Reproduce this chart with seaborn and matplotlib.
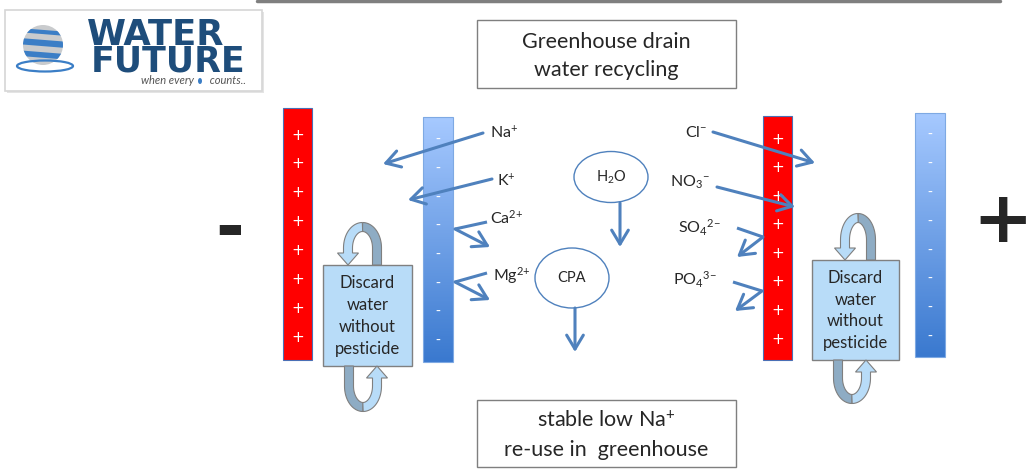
import numpy as np
import matplotlib.pyplot as plt
from matplotlib.patches import Rectangle, Ellipse, Circle, Polygon
import seaborn as sns

sns.set_style("white")
plt.rcParams['font.family'] = ['Lato', 'DejaVu Sans']
plt.rcParams['mathtext.fontset'] = 'custom'
plt.rcParams['mathtext.rm'] = 'Lato'
plt.rcParams['mathtext.it'] = 'Lato:italic'

# text content
title_lines = ["Greenhouse drain", "water recycling"]
result_lines = ["stable low Na$^{+}$", "re-use in  greenhouse"]
discard_lines = ["Discard", "water", "without", "pesticide"]
cations = ["Na$^{+}$", "K$^{+}$", "Ca$^{2{+}}$", "Mg$^{2{+}}$"]
anions = ["Cl$^{-}$", "NO$_{3}$$^{-}$", "SO$_{4}$$^{2{-}}$", "PO$_{4}$$^{3{-}}$"]
neutrals = ["H$_{2}$O", "CPA"]
n_signs = 8

# layout (pixel coordinates, y downwards)
cation_xy = [(490, 138), (497, 186), (490, 224), (493, 281)]
anion_xy = [(685, 137), (670, 187), (678, 233), (673, 285)]
cation_paths = [[(483, 133), (383, 164)], [(492, 179), (408, 200)],
                [(487, 222), (455, 229), (490, 247)], [(487, 273), (455, 282), (490, 300)]]
anion_paths = [[(713, 132), (815, 163)], [(717, 187), (795, 207)],
               [(737, 228), (763, 237), (737, 257)], [(733, 282), (762, 291), (735, 311)]]

ARROW = "#4f81bd"
blue_cmap = sns.blend_palette(["#a6c9ff", "#3a79cf"], as_cmap=True)

fig = plt.figure(figsize=(10.32, 4.73), dpi=100)
ax = fig.add_axes([0, 0, 1, 1])


def arrow_path(pts):
    for (x0, y0), (x1, y1) in zip(pts[:-2], pts[1:-1]):
        ax.plot([x0, x1], [y0, y1], color=ARROW, lw=2.2, solid_capstyle="butt", zorder=6)
    ax.annotate("", xy=pts[-1], xytext=pts[-2],
                arrowprops=dict(arrowstyle="->,head_length=0.5,head_width=0.3", color=ARROW,
                                lw=2.2, shrinkA=0, shrinkB=0, mutation_scale=20), zorder=6)


def charge_bar(x0, x1, y0, y1, sign_ys, red):
    if red:
        ax.add_patch(Rectangle((x0, y0), x1 - x0, y1 - y0, fc="#ff0000", ec="#4a6fb5", lw=0.8, zorder=2))
        s, fs = "+", 11
    else:
        ax.imshow(np.linspace(0, 1, 200)[:, None], extent=(x0, x1, y1, y0), cmap=blue_cmap,
                  aspect="auto", zorder=2)
        ax.add_patch(Rectangle((x0, y0), x1 - x0, y1 - y0, fill=False, ec="#7ea9e3", lw=0.8, zorder=3))
        s, fs = "-", 10
    for y in sign_ys:
        ax.text((x0 + x1) / 2, y, s, color="white", fontsize=fs, ha="center", va="center",
                family="DejaVu Sans", zorder=4)


def band(pts, w):
    d = np.gradient(pts, axis=0)
    n = np.column_stack([-d[:, 1], d[:, 0]])
    n /= np.linalg.norm(n, axis=1)[:, None]
    return pts + n * w / 2, pts - n * w / 2, n


def loop(cx, cy, a, b, base_y, top, w=9, hw=21, hl=12):
    s = -1 if top else 1
    h = 1 if top else -1
    t1 = np.linspace(0, np.pi / 2, 30)
    t2 = np.linspace(np.pi / 2, np.pi, 30)
    leg = np.column_stack([np.full(10, cx + h * a), np.linspace(base_y, cy, 10)])
    arc1 = np.column_stack([cx + h * a * np.cos(t1), cy + s * b * np.sin(t1)])
    dark = np.vstack([leg[:-1], arc1])
    l, r, _ = band(dark, w)
    ax.add_patch(Polygon(np.vstack([l, r[::-1]]), fc="#8eacc4", ec="#7f7f7f", lw=0.8, zorder=5))
    arc2 = np.column_stack([cx + h * a * np.cos(t2), cy + s * b * np.sin(t2)])
    hb = base_y + s * hl
    leg2 = np.column_stack([np.full(6, cx - h * a), np.linspace(cy, hb, 6)])
    light = np.vstack([arc2, leg2[1:]])
    l, r, n = band(light, w)
    c = light[-1]
    head = [c + n[-1] * hw / 2, (cx - h * a, base_y), c - n[-1] * hw / 2]
    ax.add_patch(Polygon(np.vstack([l, head, r[::-1]]), fc="#b8dcf8", ec="#7f7f7f", lw=0.8, zorder=5))


def discard_box(x0, x1, y0, y1):
    ax.add_patch(Rectangle((x0, y0), x1 - x0, y1 - y0, fc="#b8dcf8", ec="#808080", lw=1, zorder=5))
    ys = np.linspace(y0 + 18, y1 - 17, len(discard_lines))
    for y, t in zip(ys, discard_lines):
        ax.text((x0 + x1) / 2, y, t, fontsize=12, ha="center", va="center", zorder=6)


# logo
ax.add_patch(Rectangle((7, 12), 257, 81, fc="#e4e4e4", ec="none", zorder=0))
ax.add_patch(Rectangle((5, 10), 257, 81, fc="white", ec="#d6d6d6", lw=1.2, zorder=1))
globe = Circle((43, 45), 20, fc="#c9cbcd", ec="none", zorder=2)
ax.add_patch(globe)
for yy, lw in [(32, 3), (43, 4.5), (55, 4)]:
    ln, = ax.plot([18, 68], [yy - 2, yy + 2], color="#3b7ec6", lw=lw, zorder=3)
    ln.set_clip_path(globe)
ax.add_patch(Ellipse((45, 66), 56, 11, fill=False, ec="#3b7ec6", lw=1.6, zorder=2))
ax.text(87, 45, "WATER", fontsize=25.5, fontweight="bold", color="#1e4d7b", va="baseline",
        family="DejaVu Sans", zorder=3)
ax.text(91, 72, "FUTURE", fontsize=25, fontweight="bold", color="#1e4d7b", va="baseline",
        family="DejaVu Sans", zorder=3)
ax.text(141, 84, "when every      counts..", fontsize=8, style="italic", color="#555555",
        va="baseline", zorder=3)
ax.add_patch(Ellipse((200, 81), 4, 6, fc="#3b7ec6", ec="none", zorder=4))
ax.plot([257, 1000], [1.5, 1.5], color="#7f7f7f", lw=2.5)

# title and result boxes
for (y0, y1), lines, ys in [((20, 88), title_lines, (42, 70)), ((400, 467), result_lines, (421, 450))]:
    ax.add_patch(Rectangle((477, y0), 259, y1 - y0, fill=False, ec="#7f7f7f", lw=1))
    for y, t in zip(ys, lines):
        ax.text(606.5, y, t, fontsize=15.5, ha="center", va="center")

# electrodes
charge_bar(283, 312, 108, 360, np.linspace(135, 337, n_signs), True)
charge_bar(423, 453, 117, 362, np.linspace(140, 341, n_signs), False)
charge_bar(763, 792, 116, 360, np.linspace(139, 339, n_signs), True)
charge_bar(915, 945, 113, 357, np.linspace(135, 337, n_signs), False)
ax.text(230, 230, "-", fontsize=50, fontweight="bold", ha="center", va="center", family="DejaVu Sans")
ax.text(1003, 222, "+", fontsize=52, fontweight="bold", ha="center", va="center", family="DejaVu Sans")

# discard boxes with recirculation loops
discard_box(323, 412, 265, 366)
discard_box(812, 899, 260, 360)
loop(362.5, 248, 14.5, 21, 265, True)
loop(363, 386, 14, 21, 366, False)
loop(858, 240, 13, 22, 260, True)
loop(852, 378, 14, 21, 360, False)

# ions
for (x, y), t, p in zip(cation_xy, cations, cation_paths):
    ax.text(x, y, t, fontsize=11.5, va="baseline", zorder=7)
    arrow_path(p)
for (x, y), t, p in zip(anion_xy, anions, anion_paths):
    ax.text(x, y, t, fontsize=11.5, va="baseline", zorder=7)
    arrow_path(p)

# H2O and CPA
for (cx, cy, w, h), t in zip([(611, 177, 74, 51), (572, 278, 74, 60)], neutrals):
    ax.add_patch(Ellipse((cx, cy), w, h, fill=False, ec=ARROW, lw=1))
    ax.text(cx, cy, t, fontsize=10.5, ha="center", va="center")
arrow_path([(620, 203), (620, 247)])
arrow_path([(575, 308), (575, 352)])

ax.set_xlim(0, 1032)
ax.set_ylim(473, 0)
ax.axis("off")
fig.savefig("out.png", dpi=100)
